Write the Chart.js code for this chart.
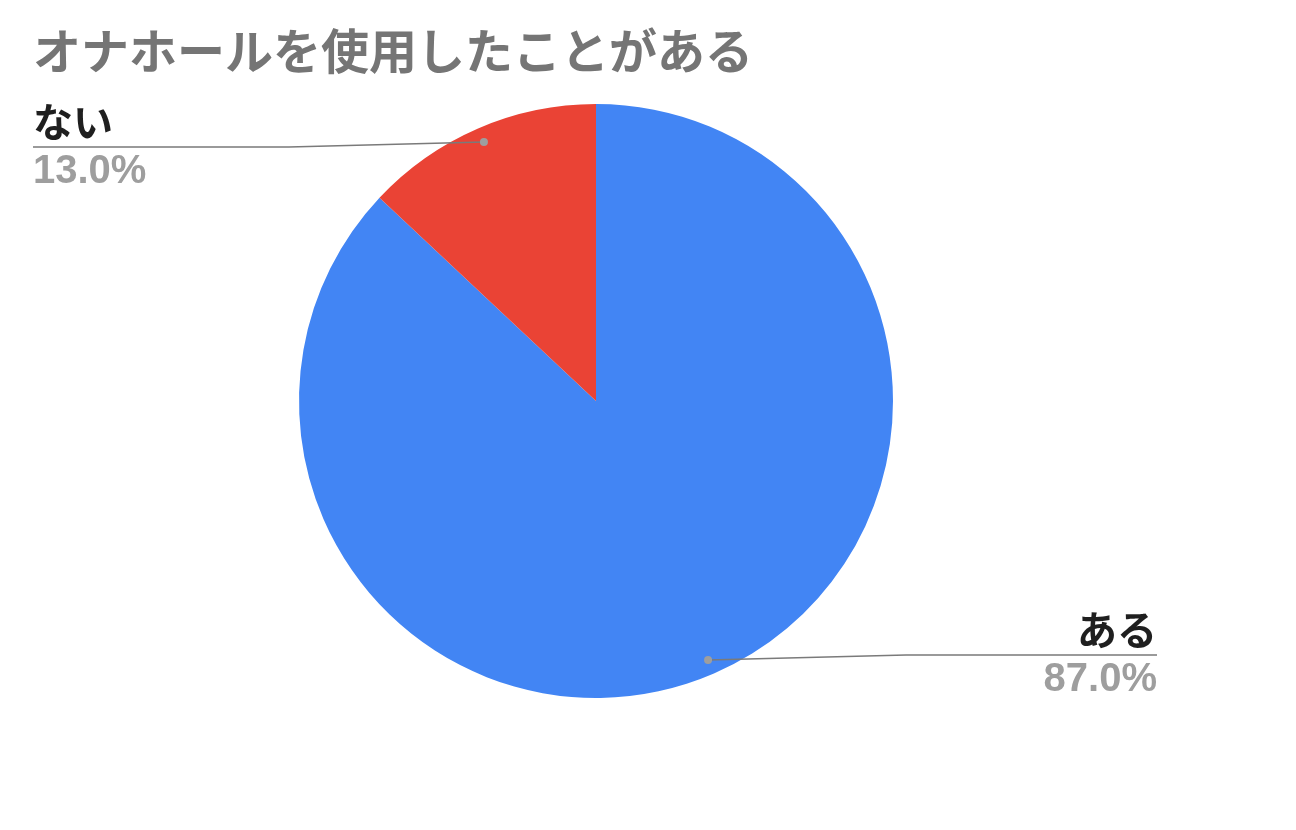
<!DOCTYPE html>
<html>
<head>
<meta charset="utf-8">
<script src="https://cdn.jsdelivr.net/npm/chart.js@4"></script>
<style>
html,body{margin:0;padding:0;background:#fff;}
#wrap{width:1296px;height:830px;}
</style>
</head>
<body>
<div id="wrap"><canvas id="c" width="1296" height="830"></canvas></div>
<script>
const titleText = 'オナホールを使用したことがある';
const categories = ['ある', 'ない'];
const values = [87.0, 13.0];
const colors = ['#4285F4', '#EA4335'];

const FONT = '"Liberation Sans", Arial, "Noto Sans CJK JP", sans-serif';

const leaderPlugin = {
  id: 'leaders',
  afterDatasetsDraw(chart) {
    const ctx = chart.ctx;
    const meta = chart.getDatasetMeta(0);
    const area = chart.chartArea;
    const total = values.reduce((a, b) => a + b, 0);
    meta.data.forEach((arc, i) => {
      const p = arc.getProps(['x', 'y', 'startAngle', 'endAngle', 'outerRadius'], true);
      const mid = (p.startAngle + p.endAngle) / 2;
      const r = p.outerRadius * 0.95;
      const dx = p.x + Math.cos(mid) * r;
      const dy = p.y + Math.sin(mid) * r;
      const left = Math.cos(mid) < 0;
      const ly = left ? dy + 5 : dy - 5;
      const ex = left ? dx - 195 : dx + 198;
      const endX = left ? area.left : area.right - 2;
      ctx.save();
      ctx.strokeStyle = '#7a7a7a';
      ctx.lineWidth = 1.5;
      ctx.beginPath();
      ctx.moveTo(dx, dy);
      ctx.lineTo(ex, ly);
      ctx.lineTo(endX, ly);
      ctx.stroke();
      ctx.fillStyle = '#9e9e9e';
      ctx.beginPath();
      ctx.arc(dx, dy, 4, 0, Math.PI * 2);
      ctx.fill();
      ctx.textAlign = left ? 'left' : 'right';
      ctx.textBaseline = 'middle';
      ctx.fillStyle = '#1f1f1f';
      ctx.font = 'bold 40px ' + FONT;
      ctx.fillText(categories[i], endX, ly - 21);
      ctx.fillStyle = '#9e9e9e';
      ctx.font = 'bold 40px ' + FONT;
      ctx.fillText((values[i] / total * 100).toFixed(1) + '%', endX, ly + 25);
      ctx.restore();
    });
  }
};

new Chart(document.getElementById('c'), {
  type: 'pie',
  data: {
    labels: categories,
    datasets: [{
      data: values,
      backgroundColor: colors,
      borderWidth: 0
    }]
  },
  options: {
    responsive: false,
    animation: false,
    layout: { padding: { left: 33, right: 137, top: 0, bottom: 132 } },
    plugins: {
      legend: { display: false },
      tooltip: { enabled: false },
      title: {
        display: true,
        text: titleText,
        align: 'start',
        color: '#757575',
        font: { family: FONT, size: 48, weight: 'bold', lineHeight: 1.2 },
        padding: { top: 27.2, bottom: 19.2 }
      }
    }
  },
  plugins: [leaderPlugin]
});
</script>
</body>
</html>
